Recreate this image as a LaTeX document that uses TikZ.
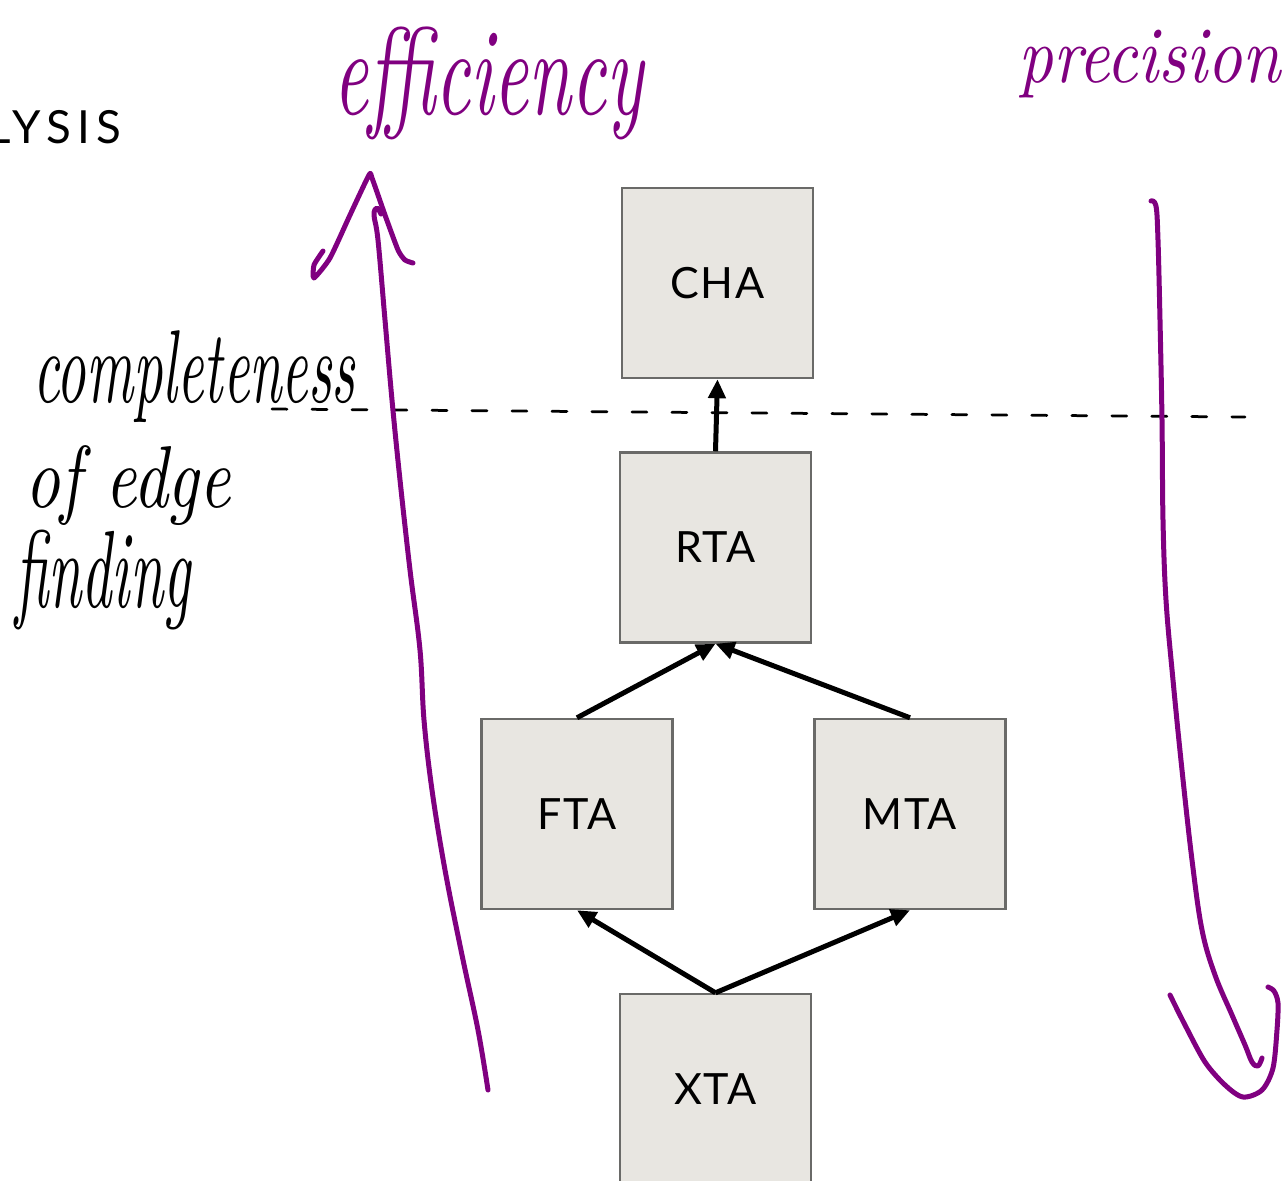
\documentclass[tikz,border=0pt]{standalone}
\usepackage{fontspec}
\usepackage{graphicx}
\usetikzlibrary{arrows.meta}
\newfontfamily\boxfont{Lato}
\definecolor{pen}{HTML}{800080}
\definecolor{boxfill}{HTML}{E8E6E1}
\definecolor{boxline}{HTML}{6A6A68}

\begin{document}
\begin{tikzpicture}[x=0.02cm,y=-0.02cm,
  stage/.style={draw=boxline, fill=boxfill, line width=0.05cm,
    minimum width=3.82cm, minimum height=3.80cm, inner sep=0pt,
    font=\boxfont\fontsize{24.5}{28}\selectfont\addfontfeature{LetterSpace=3}},
  flow/.style={line width=0.1cm, -{Triangle[length=0.38cm,width=0.34cm]}},
  penline/.style={draw=pen, line width=0.1cm, line cap=round, line join=round},
  scribble/.style={anchor=north west, inner sep=0pt},
  guide/.style={line width=0.055cm, line cap=round, dash pattern=on 0.3cm off 0.5cm}]

\useasboundingbox (0,0) rectangle (1286,1181);
\clip (0,0) rectangle (1286,1181);

% heading fragment
\node[anchor=base east, inner sep=0pt,
  font=\boxfont\fontsize{26}{30}\selectfont\addfontfeature{LetterSpace=14}]
  (head) at (122,143) {LYSIS};

% analysis boxes
\node[stage] (cha) at (717.5,283) {CHA};
\node[stage] (rta) at (715.5,547.5) {RTA};
\node[stage] (fta) at (577,814) {FTA};
\node[stage] (mta) at (910,814) {MTA};
\node[stage] (xta) at (715.5,1089) {XTA};

% refinement arrows
\draw[flow] (rta.north) -- (cha.south);
\draw[flow] (fta.north) -- (rta.south);
\draw[flow] (mta.north) -- (rta.south);
\draw[flow] (xta.north) -- (fta.south);
\draw[flow] (xta.north) -- (mta.south);

% threshold line
\coordinate (limL) at (272,409);
\coordinate (limR) at (1245,417);
\draw[guide] (limL) -- (limR);

% handwritten notes
\node[scribble, text=pen] (eff) at (333,27)
  {\resizebox*{6.2cm}{2.26cm}{\itshape efficiency}};
\node[scribble, text=pen] (prec) at (1018,30)
  {\resizebox*{5.24cm}{1.36cm}{\itshape precision}};
\node[scribble] (compl) at (33,330)
  {\resizebox*{6.44cm}{1.84cm}{\itshape completeness}};
\node[scribble] (ofedge) at (25,445)
  {\resizebox*{4.1cm}{1.6cm}{\itshape of edge}};
\node[scribble] (find) at (15,530)
  {\resizebox*{3.5cm}{2.0cm}{\itshape finding}};

% efficiency arrow (upwards)
\draw[penline] plot[smooth, tension=0.6] coordinates {(488,1090) (478,1030) (462,955)
  (445,870) (432,790) (424,720) (420,650) (410,570) (400,480) (392,400)
  (385,320) (378,240) (374,215) (377,208) (381,214)};
\draw[penline] plot[smooth, tension=0.35] coordinates {(323,251) (314,265) (314,278)
  (330,258) (350,215) (369,175) (372,178) (385,215) (398,250) (405,260) (413,263)};

% precision arrow (downwards)
\draw[penline] plot[smooth, tension=0.6] coordinates {(1151,201) (1156,206) (1158,240)
  (1160,320) (1162,420) (1163,520) (1166,600) (1173,680) (1182,770) (1192,860)
  (1202,930) (1215,975) (1232,1015) (1245,1045) (1252,1062) (1258,1066) (1262,1058)};
\draw[penline] plot[smooth, tension=0.5] coordinates {(1170,995) (1185,1025)
  (1205,1062) (1225,1085) (1243,1097) (1262,1090) (1273,1068) (1277,1030)
  (1278,1003) (1274,991) (1268,987)};
\end{tikzpicture}
\end{document}
